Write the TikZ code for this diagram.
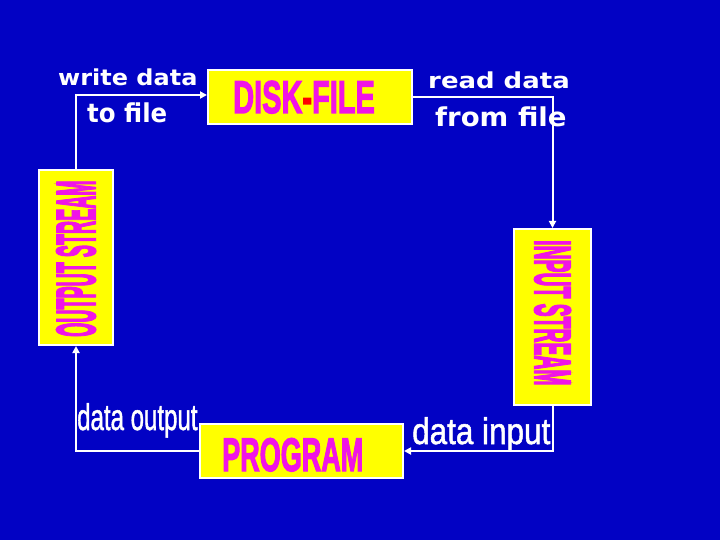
\documentclass[tikz,border=0pt]{standalone}
\usepackage{fontspec}
\usetikzlibrary{arrows.meta}
\newfontface\heavyA{Liberation Sans Bold}[FakeBold=3]
\newfontface\heavyB{Liberation Sans Bold}[FakeBold=4]
\newfontface\narrowlbl{Liberation Sans}[FakeBold=1.5]
\newfontfamily\lblfont{DejaVu Sans}
\definecolor{bgblue}{RGB}{2,2,196}
\definecolor{boxyellow}{RGB}{255,255,0}
\definecolor{boxmag}{RGB}{240,20,230}
\begin{document}
\begin{tikzpicture}[x=1pt,y=-1pt,
  box/.style={draw=white, line width=2pt, fill=boxyellow, inner sep=0pt},
  btext/.style={inner sep=0pt, text=boxmag, anchor=base west},
  lbl/.style={inner sep=0pt, text=white, font=\lblfont\bfseries, anchor=base west},
  nlbl/.style={inner sep=0pt, text=white, font=\narrowlbl, anchor=base west},
  conn/.style={draw=white, line width=2pt, -{Triangle[length=7pt,width=7pt]}}]
\fill[bgblue] (0,0) rectangle (720,540);
\useasboundingbox (0,0) rectangle (720,540);
% boxes
\node[box, minimum width=204pt, minimum height=54pt] (disk) at (310,97) {};
\node[box, minimum width=74pt, minimum height=175pt] (ostream) at (76,257.5) {};
\node[box, minimum width=77pt, minimum height=176pt] (istream) at (552.5,317) {};
\node[box, minimum width=203pt, minimum height=54pt] (prog) at (301.5,451) {};
% box texts
\node[btext, font=\heavyA] (diskT) at (233,113) {\fontsize{46}{46}\selectfont\scalebox{0.63}[1]{DISK{\color{red}-}FILE}};
\node[btext, font=\heavyA] (progT) at (222,471) {\fontsize{47}{47}\selectfont\scalebox{0.575}[1]{PROGRAM}};
\node[btext, font=\heavyB, rotate=90] (ostreamT) at (95,337) {\fontsize{55}{55}\selectfont\scalebox{0.33}[1]{OUTPUT STREAM}};
\node[btext, font=\heavyB, rotate=-90] (istreamT) at (535,240) {\fontsize{51}{51}\selectfont\scalebox{0.38}[1]{INPUT STREAM}};
% labels
\node[lbl] (w1) at (58,86) {\fontsize{22}{22}\selectfont\scalebox{1.09}[1]{write data}};
\node[lbl] (w2) at (87,123) {\fontsize{26}{26}\selectfont\scalebox{0.94}[1]{to file}};
\node[lbl] (r1) at (428,89) {\fontsize{22}{22}\selectfont\scalebox{1.18}[1]{read data}};
\node[lbl] (r2) at (435,127) {\fontsize{26}{26}\selectfont\scalebox{1.06}[1]{from file}};
\node[nlbl] (dout) at (77,430) {\fontsize{37}{37}\selectfont\scalebox{0.65}[1]{data output}};
\node[nlbl] (din) at (412,444) {\fontsize{37}{37}\selectfont\scalebox{0.85}[1]{data input}};
% connectors
\draw[conn] (ostream.north) |- ([yshift=2pt]disk.west);
\draw[conn] (disk.east) -| (istream.north);
\draw[conn] (istream.south) |- (prog.east);
\draw[conn] (prog.west) -| (ostream.south);
\end{tikzpicture}
\end{document}
